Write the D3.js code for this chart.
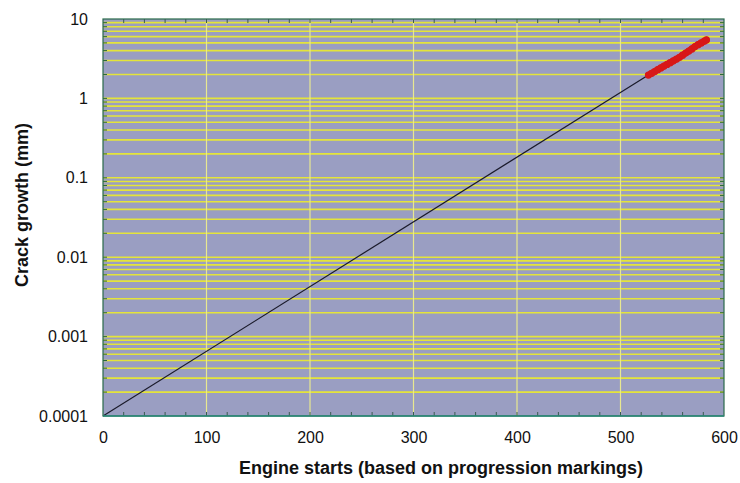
<!DOCTYPE html>
<html><head><meta charset="utf-8">
<script src="https://cdn.jsdelivr.net/npm/d3@7"></script>
<style>body{margin:0;background:#fff;} text{font-family:"Liberation Sans",Arial,sans-serif;}</style>
</head><body>
<svg id="c" width="740" height="483"></svg>
<script>
const xTicks = [0, 100, 200, 300, 400, 500, 600];
const yTicks = [0.0001, 0.001, 0.01, 0.1, 1, 10];
const yTickLabels = ["0.0001", "0.001", "0.01", "0.1", "1", "10"];
const fitX = [0, 527];
const fitY = [0.0001, 1.97];
const obsX = [527, 530, 533, 536, 539, 542, 545, 548, 551, 554, 557, 560, 563, 566, 569, 572, 575, 578, 581, 583];
const obsY = [1.97, 2.07, 2.18, 2.3, 2.42, 2.55, 2.68, 2.82, 2.97, 3.12, 3.3, 3.5, 3.72, 3.95, 4.2, 4.5, 4.75, 5.0, 5.25, 5.45];

const svg = d3.select("#c");
const L = 103, R = 724, T = 19, B = 416;
const x = d3.scaleLinear().domain([0, 600]).range([L, R]);
const y = d3.scaleLog().domain([0.0001, 10]).range([B, T]);

svg.append("rect").attr("x", L).attr("y", T).attr("width", R - L).attr("height", B - T).attr("fill", "#9a9ec2");

const hVals = [];
for (let e = -4; e < 1; e++) for (let m = 1; m <= 9; m++) hVals.push(m * Math.pow(10, e));
const inner = hVals.filter(v => v > 0.0001 && v < 10);
svg.append("g").selectAll("line").data(inner).join("line")
  .attr("x1", L).attr("x2", R).attr("y1", d => y(d)).attr("y2", d => y(d))
  .attr("stroke", "#e4e43a").attr("stroke-width", 1.6);
svg.append("g").selectAll("line").data(xTicks.filter(v => v > 0 && v < 600)).join("line")
  .attr("y1", T).attr("y2", B).attr("x1", d => x(d)).attr("x2", d => x(d))
  .attr("stroke", "#e8e890").attr("stroke-width", 1.2);

const xMinor = d3.range(20, 600, 20);
svg.append("g").selectAll("line").data(xMinor).join("line")
  .attr("x1", d => x(d)).attr("x2", d => x(d)).attr("y1", B).attr("y2", B - 4)
  .attr("stroke", "#3a5a50").attr("stroke-width", 1);
svg.append("g").selectAll("line").data(xMinor).join("line")
  .attr("x1", d => x(d)).attr("x2", d => x(d)).attr("y1", T).attr("y2", T + 4)
  .attr("stroke", "#3a5a50").attr("stroke-width", 1);
svg.append("g").selectAll("line").data(inner).join("line")
  .attr("x1", L).attr("x2", L + 4).attr("y1", d => y(d)).attr("y2", d => y(d))
  .attr("stroke", "#2a6a3a").attr("stroke-width", 1);
svg.append("g").selectAll("line").data(inner).join("line")
  .attr("x1", R).attr("x2", R - 4).attr("y1", d => y(d)).attr("y2", d => y(d))
  .attr("stroke", "#2a6a3a").attr("stroke-width", 1);

svg.append("path").datum(fitX.map((v, i) => [v, fitY[i]]))
  .attr("d", d3.line().x(d => x(d[0])).y(d => y(d[1])))
  .attr("stroke", "#1a1a2a").attr("stroke-width", 1.2).attr("fill", "none");

svg.append("path").datum(obsX.map((v, i) => [v, obsY[i]]))
  .attr("d", d3.line().x(d => x(d[0])).y(d => y(d[1])))
  .attr("stroke", "#d81818").attr("stroke-width", 6.5).attr("fill", "none").attr("stroke-linecap", "round");
svg.append("g").selectAll("circle").data(obsX.map((v, i) => [v, obsY[i]])).join("circle")
  .attr("cx", d => x(d[0])).attr("cy", d => y(d[1])).attr("r", 3.6).attr("fill", "#d81818");

svg.append("rect").attr("x", L).attr("y", T).attr("width", R - L).attr("height", B - T)
  .attr("fill", "none").attr("stroke", "#2a6a4a").attr("stroke-width", 1.2);
svg.append("line").attr("x1", L).attr("x2", R).attr("y1", B).attr("y2", B).attr("stroke", "#2a8a7a").attr("stroke-width", 1.5);

const xAxis = d3.axisBottom(x).tickValues(xTicks).tickSize(0).tickPadding(16).tickFormat(d3.format("d"));
const gx = svg.append("g").attr("transform", `translate(0,${B})`).call(xAxis);
gx.select(".domain").remove();
gx.selectAll("text").attr("font-size", 16).attr("fill", "#111").style("font-family", "Liberation Sans, Arial, sans-serif");

const yAxis = d3.axisLeft(y).tickValues(yTicks).tickSize(0).tickPadding(15).tickFormat((d, i) => yTickLabels[i]);
const gy = svg.append("g").attr("transform", `translate(${L},0)`).call(yAxis);
gy.select(".domain").remove();
gy.selectAll("text").attr("font-size", 16).attr("fill", "#111").style("font-family", "Liberation Sans, Arial, sans-serif");

svg.append("text").attr("x", 441).attr("y", 474).attr("text-anchor", "middle")
  .attr("font-size", 18).attr("font-weight", "bold").attr("fill", "#111")
  .text("Engine starts (based on progression markings)");
svg.append("text").attr("transform", `translate(28,205) rotate(-90)`).attr("text-anchor", "middle")
  .attr("font-size", 18).attr("font-weight", "bold").attr("fill", "#111")
  .text("Crack growth (mm)");
</script>
</body></html>
